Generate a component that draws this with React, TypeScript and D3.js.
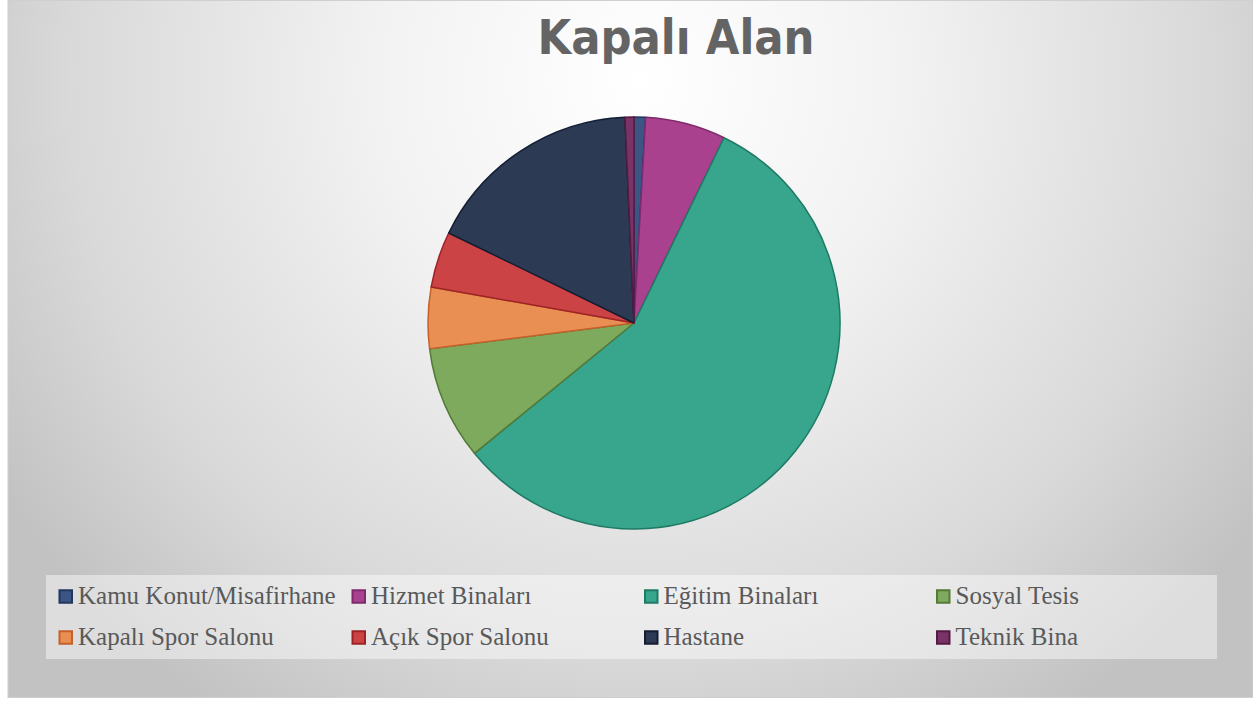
import React from "react";
import * as d3 from "d3";

const categories = [
  "Kamu Konut/Misafirhane",
  "Hizmet Binaları",
  "Eğitim Binaları",
  "Sosyal Tesis",
  "Kapalı Spor Salonu",
  "Açık Spor Salonu",
  "Hastane",
  "Teknik Bina",
];
const values = [0.9, 6.3, 56.9, 8.9, 4.8, 4.4, 17.1, 0.7];
const fills = ["#3b5585", "#a9418f", "#38a58d", "#7daa5c", "#ea8f54", "#cc4345", "#2c3a54", "#7a3366"];
const strokes = ["#23375e", "#7f2a6a", "#1e7a64", "#547a38", "#c4602a", "#9e2326", "#141e33", "#551a44"];
const title = "Kapalı Alan";

export default function App() {
  const W = 1253, H = 701;
  const cx = 634, cy = 323, r = 206;
  const pie = d3.pie<number>().sort(null).value((d) => d)(values);
  const arc = d3.arc<d3.PieArcDatum<number>>().innerRadius(0).outerRadius(r);

  const legX = d3.scaleOrdinal<number, number>().domain([0, 1, 2, 3]).range([58.5, 351.5, 644, 936]);
  const legY = d3.scaleOrdinal<number, number>().domain([0, 1]).range([596.5, 637.5]);

  return (
    <svg width={W} height={H} style={{ position: "absolute", left: 0, top: 0 }}>
      <defs>
        <radialGradient id="bg" cx="640" cy="80" r="760" gradientUnits="userSpaceOnUse" fx="640" fy="80">
          <stop offset="0" stopColor="#ffffff" />
          <stop offset="0.35" stopColor="#f2f2f2" />
          <stop offset="0.75" stopColor="#d9d9d9" />
          <stop offset="1" stopColor="#c2c2c2" />
        </radialGradient>
      </defs>
      <rect x={0} y={0} width={W} height={H} fill="#ffffff" />
      <rect x={8} y={0.5} width={W - 8} height={697} fill="url(#bg)" stroke="#cfcfcf" strokeWidth={1} />
      <text
        x={676}
        y={54}
        textAnchor="middle"
        fontFamily="'Century Gothic', 'DejaVu Sans', sans-serif"
        fontWeight="bold"
        fontSize={48}
        fill="#646464"
        textLength={277}
        lengthAdjust="spacingAndGlyphs"
      >
        {title}
      </text>
      <g transform={`translate(${cx},${cy})`}>
        {pie.map((p, i) => (
          <path key={i} d={arc(p) || ""} fill={fills[i]} stroke={strokes[i]} strokeWidth={1.5} strokeLinejoin="round" />
        ))}
      </g>
      <rect x={46} y={575} width={1171} height={84} fill="#ffffff" fillOpacity={0.45} />
      {categories.map((c, i) => {
        const col = i % 4;
        const row = Math.floor(i / 4);
        const x = legX(col);
        const y = legY(row);
        return (
          <g key={c}>
            <rect x={x + 1} y={y - 6.25} width={12.5} height={12.5} fill={fills[i]} stroke={strokes[i]} strokeWidth={2} />
            <text
              x={x + 19.5}
              y={y + 7.5}
              fontFamily="'Liberation Serif', 'Times New Roman', serif"
              fontSize={25}
              fill="#595959"
            >
              {c}
            </text>
          </g>
        );
      })}
    </svg>
  );
}
